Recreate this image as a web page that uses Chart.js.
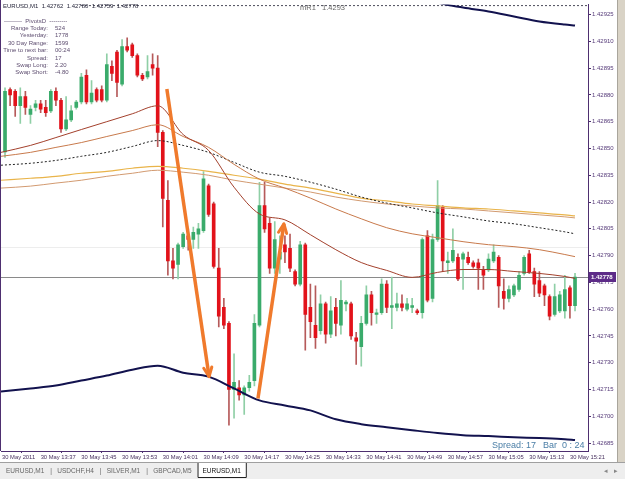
<!DOCTYPE html>
<html>
<head>
<meta charset="utf-8">
<script src="https://cdn.jsdelivr.net/npm/chart.js@4.4.1/dist/chart.umd.min.js"></script>
<style>
  html, body { margin: 0; padding: 0; background: #ffffff; }
  #wrap { width: 625px; height: 479px; }
</style>
</head>
<body>
<div id="wrap"><canvas id="fxChart" width="625" height="479"></canvas></div>
<script>
// EURUSD M1, 30 May 2011, 13:30 - 15:22 (one entry per bar)
const opens = [
  1.42848, 1.42883, 1.42882, 1.42874, 1.42879, 1.42869, 1.42873, 1.42875, 1.42873, 1.42871,
  1.42882, 1.42877, 1.42861, 1.42866, 1.42873, 1.42876, 1.42891, 1.42876, 1.42883, 1.42883,
  1.42877, 1.42896, 1.42904, 1.42886, 1.42907, 1.42908, 1.42902, 1.42891, 1.42890, 1.42897,
  1.42895, 1.42859, 1.42821, 1.42787, 1.42785, 1.42795, 1.42801, 1.42799, 1.42802, 1.42804,
  1.42829, 1.42819, 1.42783, 1.42761, 1.42752, 1.42715, 1.42716, 1.42712, 1.42716, 1.42720,
  1.42751, 1.42818, 1.42808, 1.42783, 1.42788, 1.42796, 1.42794, 1.42781, 1.42774, 1.42796,
  1.42761, 1.42751, 1.42748, 1.42763, 1.42746, 1.42761, 1.42751, 1.42763, 1.42763, 1.42744,
  1.42739, 1.42752, 1.42768, 1.42757, 1.42758, 1.42774, 1.42761, 1.42761, 1.42763, 1.42760,
  1.42761, 1.42759, 1.42758, 1.42801, 1.42766, 1.42799, 1.42817, 1.42786, 1.42787, 1.42789,
  1.42788, 1.42789, 1.42786, 1.42786, 1.42782, 1.42782, 1.42787, 1.42789, 1.42770, 1.42766,
  1.42768, 1.42771, 1.42780, 1.42791, 1.42781, 1.42776, 1.42773, 1.42767, 1.42757, 1.42759,
  1.42759, 1.42772, 1.42762
];
const highs = [
  1.42884, 1.42884, 1.42883, 1.42884, 1.42882, 1.42874, 1.42877, 1.42877, 1.42877, 1.42883,
  1.42884, 1.42878, 1.42879, 1.42874, 1.42877, 1.42892, 1.42894, 1.42888, 1.42884, 1.42885,
  1.42903, 1.42899, 1.42905, 1.42911, 1.42912, 1.42909, 1.42903, 1.42892, 1.42902, 1.42903,
  1.42902, 1.42860, 1.42832, 1.42794, 1.42797, 1.42803, 1.42805, 1.42806, 1.42808, 1.42837,
  1.42830, 1.42820, 1.42794, 1.42766, 1.42753, 1.42735, 1.42720, 1.42717, 1.42723, 1.42757,
  1.42831, 1.42831, 1.42811, 1.42809, 1.42801, 1.42801, 1.42802, 1.42782, 1.42798, 1.42797,
  1.42774, 1.42773, 1.42768, 1.42764, 1.42767, 1.42766, 1.42776, 1.42765, 1.42764, 1.42747,
  1.42756, 1.42773, 1.42770, 1.42760, 1.42777, 1.42776, 1.42778, 1.42769, 1.42768, 1.42766,
  1.42766, 1.42760, 1.42800, 1.42804, 1.42802, 1.42832, 1.42818, 1.42792, 1.42805, 1.42791,
  1.42792, 1.42792, 1.42787, 1.42788, 1.42784, 1.42791, 1.42796, 1.42790, 1.42777, 1.42773,
  1.42774, 1.42781, 1.42790, 1.42793, 1.42783, 1.42781, 1.42774, 1.42768, 1.42774, 1.42770,
  1.42779, 1.42773, 1.42780
];
const lows = [
  1.42845, 1.42874, 1.42868, 1.42864, 1.42869, 1.42864, 1.42871, 1.42870, 1.42868, 1.42870,
  1.42874, 1.42859, 1.42860, 1.42865, 1.42872, 1.42875, 1.42875, 1.42875, 1.42876, 1.42876,
  1.42876, 1.42888, 1.42879, 1.42885, 1.42904, 1.42901, 1.42890, 1.42888, 1.42889, 1.42891,
  1.42851, 1.42806, 1.42779, 1.42777, 1.42777, 1.42794, 1.42793, 1.42794, 1.42794, 1.42803,
  1.42812, 1.42783, 1.42750, 1.42749, 1.42695, 1.42699, 1.42709, 1.42701, 1.42714, 1.42717,
  1.42750, 1.42803, 1.42780, 1.42780, 1.42780, 1.42786, 1.42781, 1.42773, 1.42773, 1.42737,
  1.42744, 1.42738, 1.42746, 1.42741, 1.42744, 1.42745, 1.42746, 1.42759, 1.42743, 1.42729,
  1.42728, 1.42751, 1.42751, 1.42752, 1.42757, 1.42758, 1.42749, 1.42759, 1.42759, 1.42759,
  1.42758, 1.42757, 1.42755, 1.42764, 1.42764, 1.42798, 1.42781, 1.42780, 1.42786, 1.42776,
  1.42771, 1.42785, 1.42783, 1.42771, 1.42771, 1.42781, 1.42786, 1.42761, 1.42760, 1.42764,
  1.42767, 1.42770, 1.42779, 1.42780, 1.42767, 1.42767, 1.42762, 1.42754, 1.42756, 1.42758,
  1.42755, 1.42755, 1.42759
];
const closes = [
  1.42882, 1.42880, 1.42874, 1.42879, 1.42873, 1.42872, 1.42875, 1.42872, 1.42870, 1.42882,
  1.42877, 1.42861, 1.42866, 1.42871, 1.42876, 1.42890, 1.42876, 1.42881, 1.42877, 1.42877,
  1.42897, 1.42892, 1.42887, 1.42907, 1.42905, 1.42902, 1.42891, 1.42889, 1.42893, 1.42895,
  1.42859, 1.42822, 1.42787, 1.42783, 1.42796, 1.42802, 1.42799, 1.42803, 1.42805, 1.42833,
  1.42813, 1.42784, 1.42756, 1.42751, 1.42715, 1.42719, 1.42712, 1.42716, 1.42719, 1.42752,
  1.42818, 1.42805, 1.42783, 1.42799, 1.42792, 1.42792, 1.42783, 1.42774, 1.42796, 1.42757,
  1.42753, 1.42744, 1.42763, 1.42746, 1.42759, 1.42752, 1.42765, 1.42764, 1.42745, 1.42742,
  1.42752, 1.42768, 1.42758, 1.42758, 1.42774, 1.42761, 1.42762, 1.42763, 1.42761, 1.42763,
  1.42762, 1.42758, 1.42799, 1.42765, 1.42799, 1.42818, 1.42787, 1.42787, 1.42793, 1.42777,
  1.42791, 1.42786, 1.42784, 1.42783, 1.42779, 1.42788, 1.42792, 1.42773, 1.42766, 1.42771,
  1.42773, 1.42779, 1.42789, 1.42781, 1.42774, 1.42769, 1.42768, 1.42756, 1.42767, 1.42768,
  1.42771, 1.42762, 1.42778
];

// indicator lines, sampled every 5 bars (first sample at the left edge)
const maIdx = [-0.8, 5, 10, 15, 20, 25, 30, 35, 40, 45, 50, 55, 60, 65, 70, 75, 80, 85, 90, 95, 100, 105, 110, 112];
const maFast = [1.428478, 1.428517, 1.428561, 1.428606, 1.428650, 1.428694, 1.428739, 1.428578, 1.428489, 1.428283, 1.428133, 1.428100,
  1.428017, 1.427933, 1.427861, 1.427817, 1.427778, 1.427806, 1.427822, 1.427822, 1.427811, 1.427800, 1.427783, 1.427772];
const maMid = [1.428456, 1.428478, 1.428506, 1.428533, 1.428567, 1.428600, 1.428633, 1.428567, 1.428506, 1.428411, 1.428328, 1.428278,
  1.428222, 1.428161, 1.428106, 1.428056, 1.428022, 1.428000, 1.427978, 1.427961, 1.427950, 1.427933, 1.427906, 1.427894];
const maSlow = [1.428406, 1.428417, 1.428433, 1.428456, 1.428478, 1.428511, 1.428544, 1.428517, 1.428478, 1.428422, 1.428367, 1.428344,
  1.428311, 1.428272, 1.428228, 1.428194, 1.428167, 1.428139, 1.428117, 1.428094, 1.428078, 1.428056, 1.428033, 1.428022];
const maGold = [1.428322, 1.428333, 1.428344, 1.428361, 1.428372, 1.428389, 1.428400, 1.428389, 1.428372, 1.428350, 1.428328, 1.428300,
  1.428278, 1.428250, 1.428222, 1.428206, 1.428189, 1.428178, 1.428167, 1.428161, 1.428150, 1.428139, 1.428128, 1.428122];
const maTan = [1.428278, 1.428289, 1.428306, 1.428322, 1.428344, 1.428361, 1.428378, 1.428367, 1.428350, 1.428322, 1.428300, 1.428278,
  1.428256, 1.428228, 1.428206, 1.428189, 1.428178, 1.428167, 1.428161, 1.428150, 1.428139, 1.428128, 1.428117, 1.428111];
const bandLow = [1.427139, 1.427156, 1.427172, 1.427200, 1.427228, 1.427261, 1.427283, 1.427244, 1.427222, 1.427156, 1.427089, 1.427061,
  1.427033, 1.426983, 1.426956, 1.426939, 1.426922, 1.426906, 1.426894, 1.426889, 1.426883, 1.426878, 1.426872, 1.426867];
const bandHigh = [null, null, null, null, null, null, null, null, null, null, null, null,
  null, null, null, null, 1.429378, 1.429317, 1.429289, 1.429267, 1.429239, 1.429211, 1.429194, 1.429189];

// hand drawn arrows (bar index, price)
const arrowDownX = [31.8, 40.1];
const arrowDownY = [1.428833, 1.427222];
const arrowUpX = [49.7, 54.8];
const arrowUpY = [1.427100, 1.428078];

const pivotR1 = 1.4293;
const priceTicks = [1.42685, 1.42700, 1.42715, 1.42730, 1.42745, 1.42760, 1.42775, 1.42790, 1.42805,
  1.42820, 1.42835, 1.42850, 1.42865, 1.42880, 1.42895, 1.42910, 1.42925];
const tickLabels = ['30 May 2011', '30 May 13:37', '30 May 13:45', '30 May 13:53', '30 May 14:01', '30 May 14:09',
  '30 May 14:17', '30 May 14:25', '30 May 14:33', '30 May 14:41', '30 May 14:49', '30 May 14:57',
  '30 May 15:05', '30 May 15:13', '30 May 15:21'];

const infoLabels = ['Range Today:', 'Yesterday:', '30 Day Range:', 'Time to next bar:', 'Spread:', 'Swap Long:', 'Swap Short:'];
const infoValues = ['524', '1778', '1599', '00:24', '17', '2.20', '-4.80'];
const tabNames = ['EURUSD,M1', 'USDCHF,H4', 'SILVER,M1', 'GBPCAD,M5', 'EURUSD,M1'];

// bar times from 13:30
const barTimes = closes.map((c, i) => {
  const m = 13 * 60 + 30 + i;
  return Math.floor(m / 60) + ':' + String(m % 60).padStart(2, '0');
});

const X_MIN = -0.79, X_MAX = 114.55;
const Y_MIN = 1.4268056, Y_MAX = 1.4293056;

const tickValues = tickLabels.map((t, k) => k === 0 ? X_MIN + 0.2 : barTimes.indexOf(t.slice(7)));

const isUp = closes.map((c, i) => c >= opens[i]);
const bodyColors = isUp.map(u => u ? '#3aab6b' : '#e2121a');
const wickColors = isUp.map(u => u ? '#8fcfa6' : '#b65a5a');

const pts = (ys) => maIdx.map((x, k) => ({ x: x, y: ys[k] })).filter(p => p.y !== null);
const AXIS = '#4e2f70';
const FONT = "'Liberation Sans', Arial, sans-serif";

function lineSet(data, color, width, dash) {
  return {
    type: 'line', data: pts(data), borderColor: color, borderWidth: width,
    borderDash: dash || [], pointRadius: 0, cubicInterpolationMode: 'monotone', order: 2
  };
}

const overlay = {
  id: 'overlay',
  beforeDatasetsDraw(chart) {
    const { ctx, chartArea: a, scales: { y } } = chart;
    ctx.save();
    ctx.lineWidth = 1;
    const yl = Math.round(y.getPixelForValue(1.42795)) + 0.5;
    ctx.strokeStyle = '#ededed';
    ctx.beginPath(); ctx.moveTo(a.left, yl); ctx.lineTo(a.right, yl); ctx.stroke();
    const yc = Math.round(y.getPixelForValue(closes[closes.length - 1])) + 0.5;
    ctx.strokeStyle = '#8a8a8a';
    ctx.beginPath(); ctx.moveTo(a.left, yc); ctx.lineTo(a.right, yc); ctx.stroke();
    ctx.restore();
  },
  afterDatasetsDraw(chart) {
    const ctx = chart.ctx;
    chart.data.datasets.forEach((ds, di) => {
      if (!ds.arrow) return;
      const p = chart.getDatasetMeta(di).data;
      const a = p[0], b = p[p.length - 1];
      const ang = Math.atan2(b.y - a.y, b.x - a.x);
      ctx.save();
      ctx.strokeStyle = ds.borderColor;
      ctx.lineWidth = 3;
      ctx.lineCap = 'round';
      ctx.beginPath();
      [-1, 1].forEach(s => {
        ctx.moveTo(b.x, b.y);
        ctx.lineTo(b.x - 10 * Math.cos(ang + s * 0.42), b.y - 10 * Math.sin(ang + s * 0.42));
      });
      ctx.stroke();
      ctx.restore();
    });
  },
  afterDraw(chart) {
    const { ctx, chartArea: a, scales: { y } } = chart;
    ctx.save();
    // left frame
    ctx.strokeStyle = AXIS; ctx.lineWidth = 1;
    ctx.beginPath(); ctx.moveTo(0.5, 0); ctx.lineTo(0.5, a.bottom); ctx.stroke();

    // info panel
    ctx.fillStyle = '#ffffff';
    ctx.fillRect(1, 4, 78, 81);
    ctx.textBaseline = 'middle';
    ctx.font = '6px ' + FONT;
    ctx.fillStyle = '#26263a';
    ctx.textAlign = 'left';
    ctx.fillText('EURUSD,M1  1.42762  1.42780  1.42759  1.42778', 3, 6);
    ctx.fillStyle = '#5e4e70';
    ctx.fillText('---------  PivotsD  ---------', 4, 21);
    infoLabels.forEach((t, k) => {
      const yy = 28.3 + 7.4 * k;
      ctx.textAlign = 'right'; ctx.fillText(t, 48, yy);
      ctx.textAlign = 'left'; ctx.fillText(infoValues[k], 55, yy);
    });

    // pivot label
    ctx.font = '7.5px ' + FONT;
    ctx.fillStyle = '#666666';
    ctx.fillText('mR1   1.4293', 300, 7.5);

    // spread / bar timer
    ctx.font = '9px ' + FONT;
    ctx.fillStyle = '#4a7ea6';
    ctx.fillText('Spread: 17', 492, 446);
    ctx.fillText('Bar  0 : 24', 543, 446);

    // current price box
    const yc = Math.round(y.getPixelForValue(closes[closes.length - 1]));
    ctx.fillStyle = '#5d2b88';
    ctx.fillRect(589, yc - 5, 27, 10);
    ctx.fillStyle = '#ffffff';
    ctx.font = 'bold 6px ' + FONT;
    ctx.fillText(closes[closes.length - 1].toFixed(5), 591, yc + 0.5);

    // window edge
    ctx.fillStyle = '#d9d3c6';
    ctx.fillRect(618, 0, 7, 462);
    ctx.fillStyle = '#a9a59c';
    ctx.fillRect(617, 0, 1, 462);

    // tab strip
    ctx.fillStyle = '#eeeeee';
    ctx.fillRect(0, 462, 625, 17);
    ctx.fillStyle = '#a0a0a0';
    ctx.fillRect(0, 462, 625, 1);
    ctx.font = '6.5px ' + FONT;
    let x = 6;
    tabNames.forEach((t, k) => {
      const w = ctx.measureText(t).width;
      if (k === tabNames.length - 1) {
        ctx.fillStyle = '#ffffff';
        ctx.fillRect(x - 5, 463, w + 11, 15);
        ctx.strokeStyle = '#202020';
        ctx.beginPath();
        ctx.moveTo(x - 4.5, 463); ctx.lineTo(x - 4.5, 477.5); ctx.lineTo(x + w + 5.5, 477.5); ctx.lineTo(x + w + 5.5, 463);
        ctx.stroke();
        ctx.fillStyle = '#111111';
        ctx.fillText(t, x, 471);
      } else {
        ctx.fillStyle = '#666666';
        ctx.fillText(t, x, 471);
        x += w + 6;
        if (k < tabNames.length - 2) { ctx.fillText('|', x, 471); x += 7; } else { x += 5; }
      }
    });
    ctx.fillStyle = '#888888';
    ctx.fillText('\u25C2', 604, 471);
    ctx.fillText('\u25B8', 614, 471);
    ctx.restore();
  }
};

new Chart(document.getElementById('fxChart'), {
  type: 'bar',
  data: {
    datasets: [
      {
        label: 'wick', data: lows.map((l, i) => ({ x: i, y: [l, highs[i]] })),
        backgroundColor: wickColors, barThickness: 1, grouped: false, order: 5
      },
      {
        label: 'body', data: opens.map((o, i) => ({ x: i, y: [o, closes[i]] })),
        backgroundColor: bodyColors, barThickness: 3, grouped: false, order: 4,
        minBarLength: 1
      },
      lineSet(maFast, '#a3402c', 1),
      lineSet(maMid, '#c87a4c', 1),
      lineSet(maSlow, '#222222', 1, [2, 2]),
      lineSet(maGold, '#e9b44a', 1.2),
      lineSet(maTan, '#d29a70', 1),
      lineSet(bandLow, '#12124e', 2),
      lineSet(bandHigh, '#12124e', 2),
      {
        type: 'line', data: [{ x: X_MIN, y: pivotR1 }, { x: X_MAX, y: pivotR1 }],
        borderColor: '#4a4a5a', borderWidth: 1, borderDash: [2, 2], pointRadius: 0, order: 3
      },
      {
        type: 'line', arrow: true, data: arrowDownX.map((x, k) => ({ x: x, y: arrowDownY[k] })),
        borderColor: '#f07a2c', borderWidth: 3.5, pointRadius: 0, order: 1
      },
      {
        type: 'line', arrow: true, data: arrowUpX.map((x, k) => ({ x: x, y: arrowUpY[k] })),
        borderColor: '#f07a2c', borderWidth: 3.5, pointRadius: 0, order: 1
      }
    ]
  },
  options: {
    responsive: false,
    animation: false,
    devicePixelRatio: 1,
    layout: { padding: { top: 1, left: 1, right: 0, bottom: 0 } },
    plugins: { legend: { display: false }, tooltip: { enabled: false } },
    scales: {
      x: {
        type: 'linear', min: X_MIN, max: X_MAX, offset: false,
        afterBuildTicks: (s) => { s.ticks = tickValues.map(v => ({ value: v })); },
        afterFit: (s) => { s.height = 28; },
        grid: { display: true, drawOnChartArea: false, drawTicks: true, tickLength: 2, color: AXIS },
        border: { display: true, color: AXIS },
        ticks: {
          autoSkip: false, maxRotation: 0, minRotation: 0, align: 'start', padding: 1,
          color: '#47305e', font: { family: FONT, size: 5.8 },
          callback: (v, i) => tickLabels[i]
        }
      },
      y: {
        position: 'right', min: Y_MIN, max: Y_MAX, beginAtZero: false,
        afterBuildTicks: (s) => { s.ticks = priceTicks.map(v => ({ value: v })); },
        afterFit: (s) => { s.width = 37; },
        grid: { display: true, drawOnChartArea: false, drawTicks: true, tickLength: 3, color: AXIS },
        border: { display: true, color: AXIS },
        ticks: {
          autoSkip: false, padding: 1, color: '#553a78', font: { family: FONT, size: 6 },
          callback: (v) => Number(v).toFixed(5)
        }
      }
    }
  },
  plugins: [overlay]
});
</script>
</body>
</html>
